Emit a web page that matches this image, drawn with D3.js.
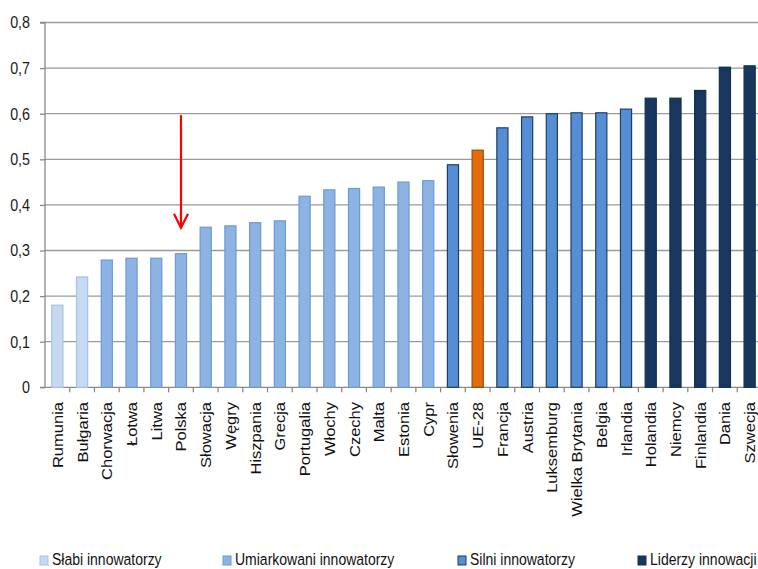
<!DOCTYPE html>
<html>
<head>
<meta charset="utf-8">
<script src="https://cdn.jsdelivr.net/npm/d3@7"></script>
<style>
  html, body { margin: 0; padding: 0; background: #fff; }
  svg { display: block; font-family: "Liberation Sans", Arial, sans-serif; }
</style>
</head>
<body>
<svg id="chart" width="758" height="569"></svg>
<script>
const categories = ["Rumunia","Bułgaria","Chorwacja","Łotwa","Litwa","Polska","Słowacja","Węgry","Hiszpania","Grecja","Portugalia","Włochy","Czechy","Malta","Estonia","Cypr","Słowenia","UE-28","Francja","Austria","Luksemburg","Wielka Brytania","Belgia","Irlandia","Holandia","Niemcy","Finlandia","Dania","Szwecja"];
const values = [0.180,0.242,0.279,0.283,0.283,0.293,0.351,0.354,0.361,0.365,0.419,0.433,0.436,0.439,0.450,0.453,0.488,0.520,0.569,0.593,0.600,0.602,0.602,0.610,0.634,0.634,0.651,0.702,0.705];
const groups = ["s","s","u","u","u","u","u","u","u","u","u","u","u","u","u","u","n","eu","n","n","n","n","n","n","l","l","l","l","l"];
const yTicks = [0,0.1,0.2,0.3,0.4,0.5,0.6,0.7,0.8];
const legendLabels = ["Słabi innowatorzy","Umiarkowani innowatorzy","Silni innowatorzy","Liderzy innowacji"];
const legendKeys = ["s","u","n","l"];
const arrowFrom = 0.597, arrowTo = 0.350, arrowCategory = "Polska";

const fills = {s:"#c6d9f1", u:"#8db3e2", n:"#558ed5", l:"#17375e", eu:"#e46c0a"};
const strokes = {s:"#a6c2e6", u:"#6b9ad6", n:"#1f3f66", l:"#13304f", eu:"#9a4a08"};
const stretch = 1.18;

const svg = d3.select("#chart");
const mLeft = 45, mRight = 762, mTop = 22.5, mBottom = 387.3;

const x = d3.scaleBand().domain(categories).range([mLeft, mRight]).paddingInner(0.55).paddingOuter(0.275);
const xTick = d3.scaleBand().domain(categories).range([mLeft, mRight]).padding(0);
const y = d3.scaleLinear().domain([0, 0.8]).range([mBottom, mTop]);

// gridlines
svg.append("g").selectAll("line").data(yTicks.filter(d => d > 0)).join("line")
  .attr("x1", mLeft).attr("x2", 758)
  .attr("y1", d => y(d)).attr("y2", d => y(d))
  .attr("stroke", "#9a9a9a").attr("stroke-width", 1.3);

// y axis
const yAxis = d3.axisLeft(y).tickValues(yTicks).tickSize(5).tickPadding(10)
  .tickFormat(d => d === 0 ? "0" : d3.format(".1f")(d).replace(".", ","));
const gy = svg.append("g").attr("transform", `translate(${mLeft},0)`).call(yAxis);
gy.select(".domain").attr("stroke", "#8a8a8a").attr("stroke-width", 1.3).attr("d", `M-5,${mTop}H0V${mBottom}H-5`);
gy.selectAll(".tick line").attr("stroke", "#8a8a8a").attr("stroke-width", 1.3);
gy.selectAll(".tick text").attr("font-size", 14.3).attr("fill", "#1a1a1a")
  .attr("font-family", "Liberation Sans, Arial, sans-serif")
  .attr("transform", `scale(1,${stretch})`);

// x axis
const gx = svg.append("g").attr("transform", `translate(0,${mBottom})`);
gx.append("line").attr("x1", mLeft).attr("x2", 758).attr("y1", 0).attr("y2", 0).attr("stroke", "#8a8a8a").attr("stroke-width", 1.3);
gx.selectAll("line.tk").data(categories).join("line").attr("class", "tk")
  .attr("x1", d => xTick(d) + xTick.bandwidth()).attr("x2", d => xTick(d) + xTick.bandwidth())
  .attr("y1", 0).attr("y2", 5).attr("stroke", "#8a8a8a").attr("stroke-width", 1.3);

// bars
svg.append("g").selectAll("rect").data(categories).join("rect")
  .attr("x", d => x(d))
  .attr("width", x.bandwidth())
  .attr("y", (d, i) => y(values[i]))
  .attr("height", (d, i) => y(0) - y(values[i]))
  .attr("fill", (d, i) => fills[groups[i]])
  .attr("stroke", (d, i) => strokes[groups[i]])
  .attr("stroke-width", 1.2);

// x labels
svg.append("g").selectAll("text").data(categories).join("text")
  .attr("transform", d => `translate(${xTick(d) + xTick.bandwidth() / 2 + 5.5},402) scale(1,${stretch}) rotate(-90)`)
  .attr("text-anchor", "end")
  .attr("font-size", 14)
  .attr("fill", "#111")
  .text(d => d);

// arrow
const ax = xTick(arrowCategory) + xTick.bandwidth() / 2;
const arrow = svg.append("g").attr("stroke", "#ff0000").attr("stroke-width", 2.2).attr("fill", "none");
arrow.append("line").attr("x1", ax).attr("x2", ax).attr("y1", y(arrowFrom)).attr("y2", y(arrowTo));
arrow.append("path").attr("d", `M${ax - 7},${y(arrowTo) - 14}L${ax},${y(arrowTo)}L${ax + 7},${y(arrowTo) - 14}`);

// legend
const legendX = [40, 223, 458, 638];
const lg = svg.append("g");
legendKeys.forEach((k, i) => {
  lg.append("rect").attr("x", legendX[i]).attr("y", 556).attr("width", 8).attr("height", 9)
    .attr("fill", fills[k]).attr("stroke", strokes[k]).attr("stroke-width", 1);
  lg.append("text").attr("transform", `translate(${legendX[i] + 12},565) scale(1,${stretch})`)
    .attr("font-size", 14).attr("fill", "#111").text(legendLabels[i]);
});
</script>
</body>
</html>
